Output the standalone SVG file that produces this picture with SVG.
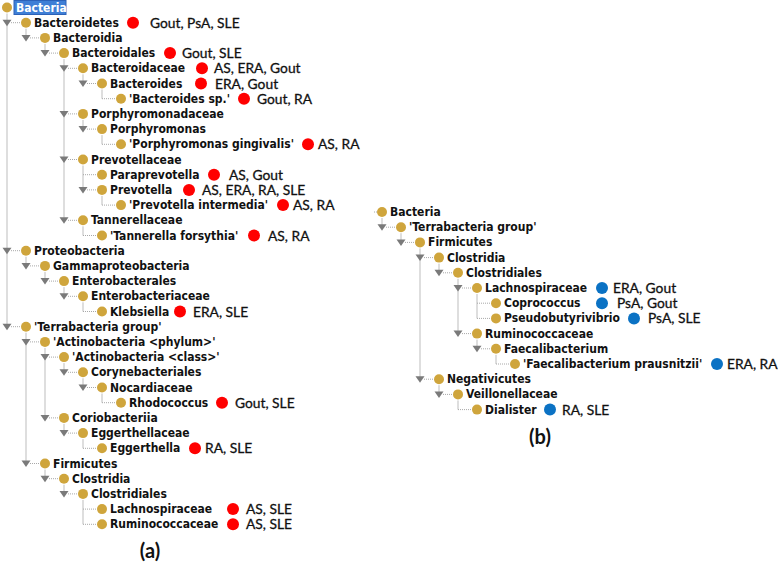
<svg xmlns="http://www.w3.org/2000/svg" width="778" height="562" viewBox="0 0 778 562">
<style>
.t{font-family:"DejaVu Sans Condensed","DejaVu Sans",sans-serif;font-stretch:condensed;font-weight:bold;font-size:12px;fill:#111}
.sel{fill:#fff}
.d{font-family:Lato,"Liberation Sans",sans-serif;font-size:13.8px;fill:#111;stroke:#111;stroke-width:0.3}
.dot{fill:#CFA53C}
.red{fill:#FF0000}
.blue{fill:#0B72C4}
.v{stroke:#BDBDBD;stroke-width:1;fill:none}
.h{stroke:#A8A8A8;stroke-width:1;fill:none;stroke-dasharray:1 1}
.lab{font-family:Lato,"Liberation Sans",sans-serif;font-weight:bold;font-size:20px;fill:#111}
</style>
<defs>
<path id="tri" d="M-4.5,-3 L4.5,-3 L0,3.5Z" fill="#7A7A7A"/>
</defs>
<rect width="778" height="562" fill="#fff"/>
<g id="connectors">
<path class="v" d="M7,13.5V326.7 M26,28.7V37.9 M45,43.9V53.1 M64,59.1V220.3 M83,74.3V83.5 M102,89.5V98.7 M83,119.9V129.1 M102,135.1V144.3 M83,165.5V189.9 M102,195.9V205.1 M83,226.3V235.5 M26,256.7V265.9 M45,271.9V281.1 M64,287.1V296.3 M83,302.3V311.5 M26,332.7V463.5 M45,347.9V417.9 M64,363.1V372.3 M83,378.3V387.5 M102,393.5V402.7 M64,423.9V433.1 M83,439.1V448.3 M45,469.5V478.7 M64,484.7V493.9 M83,499.9V524.3"/>
<path class="h" d="M11,22.7H21 M30,37.9H40 M49,53.1H59 M68,68.3H78 M87,83.5H97 M102,98.7H116 M68,113.9H78 M87,129.1H97 M102,144.3H116 M68,159.5H78 M83,174.7H97 M87,189.9H97 M102,205.1H116 M68,220.3H78 M83,235.5H97 M11,250.7H21 M30,265.9H40 M49,281.1H59 M68,296.3H78 M83,311.5H97 M11,326.7H21 M30,341.9H40 M49,357.1H59 M68,372.3H78 M87,387.5H97 M102,402.7H116 M49,417.9H59 M68,433.1H78 M83,448.3H97 M30,463.5H40 M49,478.7H59 M68,493.9H78 M83,509.1H97 M83,524.3H97"/>
<path class="v" d="M382,218V227.2 M401,233.2V242.4 M420,248.4V379.2 M439,263.6V272.8 M458,278.8V333.6 M477,294V318.4 M477,339.6V348.8 M496,354.8V364 M439,385.2V394.4 M458,400.4V409.6"/>
<path class="h" d="M374,212H377 M386,227.2H396 M405,242.4H415 M424,257.6H434 M443,272.8H453 M462,288H472 M477,303.2H491 M477,318.4H491 M462,333.6H472 M481,348.8H491 M496,364H510 M424,379.2H434 M443,394.4H453 M458,409.6H472"/>
</g>
<g id="tree-a">
<g id="a-bacteria"><rect x="14" y="0.5" width="52" height="14" fill="#3F7FD6" stroke="#2C62B8"/><circle class="dot" cx="7" cy="7.5" r="5"/><text class="t sel" x="16" y="11.5">Bacteria</text></g>
<g id="a-bacteroidetes"><use href="#tri" x="7" y="22.7"/><circle class="dot" cx="26" cy="22.7" r="5"/><text class="t" x="34" y="26.7">Bacteroidetes</text><circle class="red" cx="133" cy="22.7" r="6"/><text class="d" x="150" y="27.7">Gout, PsA, SLE</text></g>
<g id="a-bacteroidia"><use href="#tri" x="26" y="37.9"/><circle class="dot" cx="45" cy="37.9" r="5"/><text class="t" x="53" y="41.9">Bacteroidia</text></g>
<g id="a-bacteroidales"><use href="#tri" x="45" y="53.1"/><circle class="dot" cx="64" cy="53.1" r="5"/><text class="t" x="72" y="57.1">Bacteroidales</text><circle class="red" cx="170" cy="53.1" r="6"/><text class="d" x="182" y="58.1">Gout, SLE</text></g>
<g id="a-bacteroidaceae"><use href="#tri" x="64" y="68.3"/><circle class="dot" cx="83" cy="68.3" r="5"/><text class="t" x="91" y="72.3">Bacteroidaceae</text><circle class="red" cx="202" cy="68.3" r="6"/><text class="d" x="214" y="73.3">AS, ERA, Gout</text></g>
<g id="a-bacteroides"><use href="#tri" x="83" y="83.5"/><circle class="dot" cx="102" cy="83.5" r="5"/><text class="t" x="110" y="87.5">Bacteroides</text><circle class="red" cx="201" cy="83.5" r="6"/><text class="d" x="215" y="88.5">ERA, Gout</text></g>
<g id="a-bacteroides-sp"><circle class="dot" cx="121" cy="98.7" r="5"/><text class="t" x="129" y="102.7">'Bacteroides sp.'</text><circle class="red" cx="244" cy="98.7" r="6"/><text class="d" x="257" y="103.7">Gout, RA</text></g>
<g id="a-porphyromonadaceae"><use href="#tri" x="64" y="113.9"/><circle class="dot" cx="83" cy="113.9" r="5"/><text class="t" x="91" y="117.9">Porphyromonadaceae</text></g>
<g id="a-porphyromonas"><use href="#tri" x="83" y="129.1"/><circle class="dot" cx="102" cy="129.1" r="5"/><text class="t" x="110" y="133.1">Porphyromonas</text></g>
<g id="a-p-gingivalis"><circle class="dot" cx="121" cy="144.3" r="5"/><text class="t" x="129" y="148.3">'Porphyromonas gingivalis'</text><circle class="red" cx="308" cy="144.3" r="6"/><text class="d" x="318" y="149.3">AS, RA</text></g>
<g id="a-prevotellaceae"><use href="#tri" x="64" y="159.5"/><circle class="dot" cx="83" cy="159.5" r="5"/><text class="t" x="91" y="163.5">Prevotellaceae</text></g>
<g id="a-paraprevotella"><circle class="dot" cx="102" cy="174.7" r="5"/><text class="t" x="110" y="178.7">Paraprevotella</text><circle class="red" cx="214" cy="174.7" r="6"/><text class="d" x="229" y="179.7">AS, Gout</text></g>
<g id="a-prevotella"><use href="#tri" x="83" y="189.9"/><circle class="dot" cx="102" cy="189.9" r="5"/><text class="t" x="110" y="193.9">Prevotella</text><circle class="red" cx="189" cy="189.9" r="6"/><text class="d" x="202" y="194.9">AS, ERA, RA, SLE</text></g>
<g id="a-p-intermedia"><circle class="dot" cx="121" cy="205.1" r="5"/><text class="t" x="129" y="209.1">'Prevotella intermedia'</text><circle class="red" cx="283" cy="205.1" r="6"/><text class="d" x="293" y="210.1">AS, RA</text></g>
<g id="a-tannerellaceae"><use href="#tri" x="64" y="220.3"/><circle class="dot" cx="83" cy="220.3" r="5"/><text class="t" x="91" y="224.3">Tannerellaceae</text></g>
<g id="a-t-forsythia"><circle class="dot" cx="102" cy="235.5" r="5"/><text class="t" x="110" y="239.5">'Tannerella forsythia'</text><circle class="red" cx="254" cy="235.5" r="6"/><text class="d" x="268" y="240.5">AS, RA</text></g>
<g id="a-proteobacteria"><use href="#tri" x="7" y="250.7"/><circle class="dot" cx="26" cy="250.7" r="5"/><text class="t" x="34" y="254.7">Proteobacteria</text></g>
<g id="a-gammaproteobacteria"><use href="#tri" x="26" y="265.9"/><circle class="dot" cx="45" cy="265.9" r="5"/><text class="t" x="53" y="269.9">Gammaproteobacteria</text></g>
<g id="a-enterobacterales"><use href="#tri" x="45" y="281.1"/><circle class="dot" cx="64" cy="281.1" r="5"/><text class="t" x="72" y="285.1">Enterobacterales</text></g>
<g id="a-enterobacteriaceae"><use href="#tri" x="64" y="296.3"/><circle class="dot" cx="83" cy="296.3" r="5"/><text class="t" x="91" y="300.3">Enterobacteriaceae</text></g>
<g id="a-klebsiella"><circle class="dot" cx="102" cy="311.5" r="5"/><text class="t" x="110" y="315.5">Klebsiella</text><circle class="red" cx="180" cy="311.5" r="6"/><text class="d" x="193" y="316.5">ERA, SLE</text></g>
<g id="a-terrabacteria"><use href="#tri" x="7" y="326.7"/><circle class="dot" cx="26" cy="326.7" r="5"/><text class="t" x="34" y="330.7">'Terrabacteria group'</text></g>
<g id="a-actino-phylum"><use href="#tri" x="26" y="341.9"/><circle class="dot" cx="45" cy="341.9" r="5"/><text class="t" x="53" y="345.9">'Actinobacteria &lt;phylum&gt;'</text></g>
<g id="a-actino-class"><use href="#tri" x="45" y="357.1"/><circle class="dot" cx="64" cy="357.1" r="5"/><text class="t" x="72" y="361.1">'Actinobacteria &lt;class&gt;'</text></g>
<g id="a-corynebacteriales"><use href="#tri" x="64" y="372.3"/><circle class="dot" cx="83" cy="372.3" r="5"/><text class="t" x="91" y="376.3">Corynebacteriales</text></g>
<g id="a-nocardiaceae"><use href="#tri" x="83" y="387.5"/><circle class="dot" cx="102" cy="387.5" r="5"/><text class="t" x="110" y="391.5">Nocardiaceae</text></g>
<g id="a-rhodococcus"><circle class="dot" cx="121" cy="402.7" r="5"/><text class="t" x="129" y="406.7">Rhodococcus</text><circle class="red" cx="222" cy="402.7" r="6"/><text class="d" x="235" y="407.7">Gout, SLE</text></g>
<g id="a-coriobacteriia"><use href="#tri" x="45" y="417.9"/><circle class="dot" cx="64" cy="417.9" r="5"/><text class="t" x="72" y="421.9">Coriobacteriia</text></g>
<g id="a-eggerthellaceae"><use href="#tri" x="64" y="433.1"/><circle class="dot" cx="83" cy="433.1" r="5"/><text class="t" x="91" y="437.1">Eggerthellaceae</text></g>
<g id="a-eggerthella"><circle class="dot" cx="102" cy="448.3" r="5"/><text class="t" x="110" y="452.3">Eggerthella</text><circle class="red" cx="195" cy="448.3" r="6"/><text class="d" x="205" y="453.3">RA, SLE</text></g>
<g id="a-firmicutes"><use href="#tri" x="26" y="463.5"/><circle class="dot" cx="45" cy="463.5" r="5"/><text class="t" x="53" y="467.5">Firmicutes</text></g>
<g id="a-clostridia"><use href="#tri" x="45" y="478.7"/><circle class="dot" cx="64" cy="478.7" r="5"/><text class="t" x="72" y="482.7">Clostridia</text></g>
<g id="a-clostridiales"><use href="#tri" x="64" y="493.9"/><circle class="dot" cx="83" cy="493.9" r="5"/><text class="t" x="91" y="497.9">Clostridiales</text></g>
<g id="a-lachnospiraceae"><circle class="dot" cx="102" cy="509.1" r="5"/><text class="t" x="110" y="513.1">Lachnospiraceae</text><circle class="red" cx="233" cy="509.1" r="6"/><text class="d" x="246" y="514.1">AS, SLE</text></g>
<g id="a-ruminococcaceae"><circle class="dot" cx="102" cy="524.3" r="5"/><text class="t" x="110" y="528.3">Ruminococcaceae</text><circle class="red" cx="233" cy="524.3" r="6"/><text class="d" x="246" y="529.3">AS, SLE</text></g>
<text id="label-a" class="lab" x="150" y="558" text-anchor="middle">(a)</text>
</g>
<g id="tree-b">
<g id="b-bacteria"><circle class="dot" cx="382" cy="212" r="5"/><text class="t" x="390" y="216">Bacteria</text></g>
<g id="b-terrabacteria"><use href="#tri" x="382" y="227.2"/><circle class="dot" cx="401" cy="227.2" r="5"/><text class="t" x="409" y="231.2">'Terrabacteria group'</text></g>
<g id="b-firmicutes"><use href="#tri" x="401" y="242.4"/><circle class="dot" cx="420" cy="242.4" r="5"/><text class="t" x="428" y="246.4">Firmicutes</text></g>
<g id="b-clostridia"><use href="#tri" x="420" y="257.6"/><circle class="dot" cx="439" cy="257.6" r="5"/><text class="t" x="447" y="261.6">Clostridia</text></g>
<g id="b-clostridiales"><use href="#tri" x="439" y="272.8"/><circle class="dot" cx="458" cy="272.8" r="5"/><text class="t" x="466" y="276.8">Clostridiales</text></g>
<g id="b-lachnospiraceae"><use href="#tri" x="458" y="288"/><circle class="dot" cx="477" cy="288" r="5"/><text class="t" x="485" y="292">Lachnospiraceae</text><circle class="blue" cx="602" cy="288" r="6"/><text class="d" x="613" y="293">ERA, Gout</text></g>
<g id="b-coprococcus"><circle class="dot" cx="496" cy="303.2" r="5"/><text class="t" x="504" y="307.2">Coprococcus</text><circle class="blue" cx="602" cy="303.2" r="6"/><text class="d" x="617" y="308.2">PsA, Gout</text></g>
<g id="b-pseudobutyrivibrio"><circle class="dot" cx="496" cy="318.4" r="5"/><text class="t" x="504" y="322.4">Pseudobutyrivibrio</text><circle class="blue" cx="634" cy="318.4" r="6"/><text class="d" x="648" y="323.4">PsA, SLE</text></g>
<g id="b-ruminococcaceae"><use href="#tri" x="458" y="333.6"/><circle class="dot" cx="477" cy="333.6" r="5"/><text class="t" x="485" y="337.6">Ruminococcaceae</text></g>
<g id="b-faecalibacterium"><use href="#tri" x="477" y="348.8"/><circle class="dot" cx="496" cy="348.8" r="5"/><text class="t" x="504" y="352.8">Faecalibacterium</text></g>
<g id="b-f-prausnitzii"><circle class="dot" cx="515" cy="364" r="5"/><text class="t" x="523" y="368">'Faecalibacterium prausnitzii'</text><circle class="blue" cx="717" cy="364" r="6"/><text class="d" x="727" y="369">ERA, RA</text></g>
<g id="b-negativicutes"><use href="#tri" x="420" y="379.2"/><circle class="dot" cx="439" cy="379.2" r="5"/><text class="t" x="447" y="383.2">Negativicutes</text></g>
<g id="b-veillonellaceae"><use href="#tri" x="439" y="394.4"/><circle class="dot" cx="458" cy="394.4" r="5"/><text class="t" x="466" y="398.4">Veillonellaceae</text></g>
<g id="b-dialister"><circle class="dot" cx="477" cy="409.6" r="5"/><text class="t" x="485" y="413.6">Dialister</text><circle class="blue" cx="550" cy="409.6" r="6"/><text class="d" x="562" y="414.6">RA, SLE</text></g>
<text id="label-b" class="lab" x="540" y="444" text-anchor="middle">(b)</text>
</g>
</svg>
